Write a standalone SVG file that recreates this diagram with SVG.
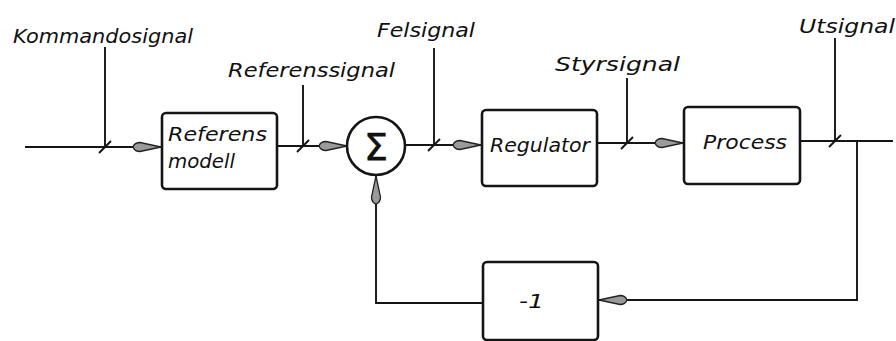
<svg xmlns="http://www.w3.org/2000/svg" width="896" height="341" viewBox="0 0 896 341">
<style>
.bg{fill:#ffffff}
.box{fill:none;stroke:#151515;stroke-width:2.6}
.ln{fill:none;stroke:#151515;stroke-width:1.9}
.tick{fill:none;stroke:#151515;stroke-width:1.9}
.lbl{font-family:"DejaVu Sans","Liberation Sans",sans-serif;font-style:italic;font-size:20px;fill:#111}
.sig{font-family:"DejaVu Sans","Liberation Sans",sans-serif;font-style:italic;font-size:20px;fill:#111}
.sum{font-family:"DejaVu Sans","Liberation Sans",sans-serif;font-size:38px;fill:#111;stroke:#111;stroke-width:0.6}
</style>
<defs>
<marker id="ah" markerUnits="userSpaceOnUse" markerWidth="30" markerHeight="12" viewBox="0 0 30 12" refX="29" refY="6" orient="auto">
<path d="M1,6 Q2.5,1.5 8,1.5 L29,6 L8,10.5 Q2.5,10.5 1,6 Z" fill="#9a9a9a" stroke="#222" stroke-width="1.3"/>
</marker>
</defs>
<rect class="bg" x="0" y="0" width="896" height="341"/>

<g id="connectors">
<path class="ln" d="M25,147 L161,147" marker-end="url(#ah)"/>
<path class="ln" d="M277,146 L347,146" marker-end="url(#ah)"/>
<path class="ln" d="M405,145 L481,145" marker-end="url(#ah)"/>
<path class="ln" d="M597,143 L683,143" marker-end="url(#ah)"/>
<path class="ln" d="M800,141 L893,141"/>
<path class="ln" d="M857,141 L857,300 L599,300" marker-end="url(#ah)"/>
<path class="ln" d="M483,303 L376,303 L376,176" marker-end="url(#ah)"/>
</g>

<g id="sig-kommando">
<text class="sig" x="13" y="43" textLength="180" lengthAdjust="spacingAndGlyphs">Kommandosignal</text>
<path class="tick" d="M105,47 L105,147 M99,153 L111,141"/>
</g>
<g id="sig-referens">
<text class="sig" x="228" y="77" textLength="167" lengthAdjust="spacingAndGlyphs">Referenssignal</text>
<path class="tick" d="M303,85 L303,146 M297,152 L309,140"/>
</g>
<g id="sig-fel">
<text class="sig" x="377" y="37" textLength="98" lengthAdjust="spacingAndGlyphs">Felsignal</text>
<path class="tick" d="M434,48 L434,145 M428,151 L440,139"/>
</g>
<g id="sig-styr">
<text class="sig" x="555" y="71" textLength="125" lengthAdjust="spacingAndGlyphs">Styrsignal</text>
<path class="tick" d="M627,78 L627,143 M621,149 L633,137"/>
</g>
<g id="sig-ut">
<text class="sig" x="799" y="33" textLength="96" lengthAdjust="spacingAndGlyphs">Utsignal</text>
<path class="tick" d="M835,38 L835,141 M829,147 L841,135"/>
</g>

<g id="referensmodell">
<rect class="box" x="162" y="113" width="115" height="76" rx="4"/>
<text class="lbl" x="168" y="141" textLength="99" lengthAdjust="spacingAndGlyphs">Referens</text>
<text class="lbl" x="168" y="168" textLength="67" lengthAdjust="spacingAndGlyphs">modell</text>
</g>

<g id="summator">
<circle class="box" cx="376" cy="146" r="29"/>
<text class="sum" x="376" y="160" text-anchor="middle">Σ</text>
</g>

<g id="regulator">
<rect class="box" x="482" y="110" width="115" height="76" rx="4"/>
<text class="lbl" x="490" y="152" textLength="100" lengthAdjust="spacingAndGlyphs">Regulator</text>
</g>

<g id="process">
<rect class="box" x="684" y="107" width="116" height="77" rx="4"/>
<text class="lbl" x="703" y="149" textLength="84" lengthAdjust="spacingAndGlyphs">Process</text>
</g>

<g id="gain">
<rect class="box" x="483" y="262" width="115" height="78" rx="4"/>
<text class="lbl" x="519" y="308" textLength="25" lengthAdjust="spacingAndGlyphs">-1</text>
</g>
</svg>
